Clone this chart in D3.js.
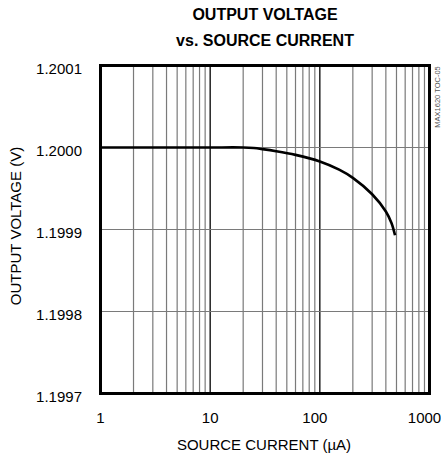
<!DOCTYPE html>
<html>
<head>
<meta charset="utf-8">
<script src="https://cdn.jsdelivr.net/npm/d3@7"></script>
<style>
  html, body { margin: 0; padding: 0; background: #fff; }
  svg { display: block; }
  text { font-family: "Liberation Sans", Arial, Helvetica, sans-serif; fill: #000; }
</style>
</head>
<body>
<svg id="chart" width="441" height="457"></svg>
<script>
// ---- data ----
const titleLines = ["OUTPUT VOLTAGE", "vs. SOURCE CURRENT"];
const xTitle = "SOURCE CURRENT (\u00B5A)";
const yTitle = "OUTPUT VOLTAGE (V)";
const sideNote = "MAX1620 TOC-05";

const xDomain = [1, 1000];
const yDomain = [1.1997, 1.2001];
const xTickValues = [1, 10, 100, 1000];
const xTickLabels = ["1", "10", "100", "1000"];
const yTickValues = [1.1997, 1.1998, 1.1999, 1.2000, 1.2001];
const yTickLabels = ["1.1997", "1.1998", "1.1999", "1.2000", "1.2001"];

// curve: source current (uA) vs output voltage (V)
const current = [1, 5, 10, 20, 25, 30, 40, 60, 100, 150, 200, 300, 400, 450, 485];
const voltage = [1.2000, 1.2000, 1.2000, 1.2000, 1.1999993, 1.199998, 1.1999955, 1.199991,
                 1.199983, 1.199973, 1.199963, 1.199943, 1.199922, 1.199908, 1.199893];

// ---- layout ----
const svg = d3.select("#chart");
const L = 100.5, R = 429.5, T = 65.5, B = 393.5;

const x = d3.scaleLog().domain(xDomain).range([L, R]);
const y = d3.scaleLinear().domain(yDomain).range([B, T]);

// minor + decade vertical grid
const minorX = [];
for (let d = 1; d < 1000; d *= 10) {
  for (let m = 2; m <= 9; m++) minorX.push(d * m);
}
const decadeX = xTickValues.filter(v => v > xDomain[0] && v < xDomain[1]);

svg.append("g").selectAll("line").data(minorX).join("line")
  .attr("x1", d => x(d)).attr("x2", d => x(d))
  .attr("y1", T).attr("y2", B)
  .attr("stroke", "#7a7a7a").attr("stroke-width", 1.2);

svg.append("g").selectAll("line").data(decadeX).join("line")
  .attr("x1", d => x(d)).attr("x2", d => x(d))
  .attr("y1", T).attr("y2", B)
  .attr("stroke", "#000").attr("stroke-width", 1.3);

// horizontal grid
const innerY = yTickValues.filter(v => v > yDomain[0] + 1e-9 && v < yDomain[1] - 1e-9);
svg.append("g").selectAll("line").data(innerY).join("line")
  .attr("x1", L).attr("x2", R)
  .attr("y1", d => y(d)).attr("y2", d => y(d))
  .attr("stroke", "#7a7a7a").attr("stroke-width", 1.2);

// data curve
const pts = current.map((c, i) => [c, voltage[i]]);
const line = d3.line().x(d => x(d[0])).y(d => y(d[1])).curve(d3.curveCatmullRom.alpha(0.5));
svg.append("path").datum(pts)
  .attr("d", line)
  .attr("fill", "none").attr("stroke", "#000").attr("stroke-width", 2.6)
  .attr("stroke-linecap", "butt");

// frame
svg.append("rect")
  .attr("x", L).attr("y", T).attr("width", R - L).attr("height", B - T)
  .attr("fill", "none").attr("stroke", "#000").attr("stroke-width", 3);

// y tick labels
svg.append("g").selectAll("text").data(yTickValues).join("text")
  .attr("x", 82).attr("y", d => y(d) + 8)
  .attr("text-anchor", "end")
  .attr("font-size", 15)
  .text((d, i) => yTickLabels[i]);

// x tick labels
svg.append("g").selectAll("text").data(xTickValues).join("text")
  .attr("x", d => x(d) + (d >= 100 ? -5 : 0)).attr("y", 422.5)
  .attr("text-anchor", "middle")
  .attr("font-size", 15)
  .text((d, i) => xTickLabels[i]);

// titles
svg.append("g").selectAll("text").data(titleLines).join("text")
  .attr("x", 265).attr("y", (d, i) => 20 + i * 26)
  .attr("text-anchor", "middle")
  .attr("font-size", 16).attr("font-weight", "bold")
  .text(d => d);

svg.append("text")
  .attr("x", 264).attr("y", 450)
  .attr("text-anchor", "middle").attr("font-size", 15)
  .text(xTitle);

svg.append("text")
  .attr("transform", "translate(21,226) rotate(-90)")
  .attr("text-anchor", "middle").attr("font-size", 15)
  .text(yTitle);

svg.append("text")
  .attr("transform", "translate(440,97) rotate(-90)")
  .attr("text-anchor", "middle").attr("font-size", 7.5)
  .style("fill", "#555")
  .text(sideNote);
</script>
</body>
</html>
